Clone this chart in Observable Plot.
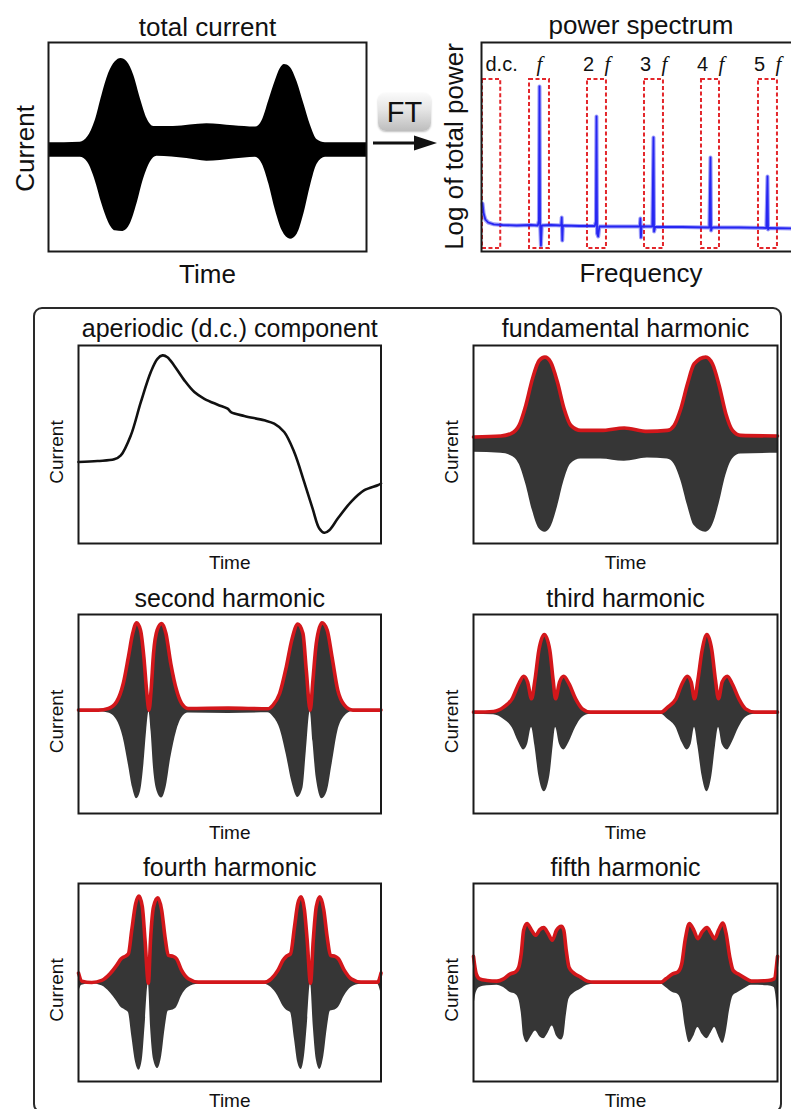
<!DOCTYPE html>
<html>
<head>
<meta charset="utf-8">
<script src="https://cdn.jsdelivr.net/npm/d3@7"></script>
<script src="https://cdn.jsdelivr.net/npm/@observablehq/plot@0.6"></script>
<style>
  html, body { margin: 0; padding: 0; background: #fff; }
  body { overflow: hidden; font-family: "Liberation Sans", Arial, Helvetica, sans-serif; }
  #root { position: relative; width: 791px; height: 1109px; overflow: hidden; background: #fff; }
  #bigbox { position: absolute; left: 33px; top: 307px; width: 749px; height: 806px; box-sizing: border-box;
            border: 2px solid #2a2a2a; border-radius: 9px; }
  #ft { position: absolute; left: 378px; top: 93px; width: 53px; height: 38px; box-sizing: border-box;
        border-radius: 8px; background: linear-gradient(#fafafa, #e4e4e4 45%, #bdbdbd);
        box-shadow: 0 1px 2px rgba(0,0,0,0.25);
        font-size: 29px; line-height: 38px; text-align: center; color: #111; }
  #arrow { position: absolute; left: 0; top: 0; }
</style>
</head>
<body>
<div id="root">
  <div id="bigbox"></div>
  <div id="ft">FT</div>
  <svg id="arrow" width="791" height="300">
    <line x1="373" y1="143" x2="418" y2="143" stroke="#111" stroke-width="3"></line>
    <polygon points="414,135.5 437,143 414,150.5" fill="#111"></polygon>
  </svg>
</div>
<script>
// ---------------- DATA ----------------
// total current (time in % of experiment, current in arbitrary units; upper and lower envelope)
const totalUpperTime = [0, 10.0, 12.3, 14.7, 16.8, 18.9, 21.0, 22.8, 24.7, 26.8, 28.9, 31.0, 33.1, 39.3, 49.8, 58.2, 65.1, 67.2, 69.3, 71.4, 72.9, 74.2, 75.9, 78.2, 80.3, 82.4, 84.5, 87.1, 100];
const totalUpper = [7, 7.7, 12.7, 29.3, 54.3, 76, 87.7, 91, 87.7, 74.3, 51, 31, 23.3, 23.3, 26, 24, 22.7, 29.3, 49.3, 69.3, 81, 85, 82.7, 67.7, 46, 24.3, 10, 7, 7];
const totalLowerTime = [0, 10.0, 12.3, 14.7, 16.8, 18.9, 21.0, 23.4, 25.7, 27.8, 29.9, 32.0, 34.1, 43.5, 49.8, 58.2, 65.1, 67.2, 69.3, 71.4, 73.5, 76.1, 78.2, 80.3, 82.4, 84.5, 87.1, 100];
const totalLower = [-7.3, -7.3, -12.3, -30.7, -54, -72.3, -80.7, -81.3, -74, -54, -29, -12.3, -6.3, -8.7, -11.3, -9, -7.3, -14, -34, -60.7, -80.7, -89, -84, -64, -35.7, -14, -7.3, -7.3];

// power spectrum (frequency in multiples of f, log power in arbitrary units)
const specFreq = [0, 0.02, 0.05, 0.1, 0.2, 0.35, 0.6, 0.85, 0.97, 0.99, 1.0, 1.01, 1.025, 1.04, 1.2, 1.38, 1.39, 1.40, 1.41, 1.7, 1.97, 1.99, 2.0, 2.01, 2.03, 2.05, 2.4, 2.76, 2.77, 2.78, 2.79, 2.98, 3.0, 3.01, 3.03, 3.5, 3.98, 4.0, 4.01, 4.03, 4.5, 4.98, 5.0, 5.01, 5.03, 5.51];
const specPower = [2.2, 1.2, 0.6, 0.3, 0.12, 0.05, 0.0, 0.05, 0.0, 0.5, 13.9, 0.3, -2.0, 0.0, 0.05, 0.0, 0.8, -1.5, 0.0, -0.05, -0.05, 0.4, 10.9, -0.8, -1.1, -0.1, -0.1, -0.1, 0.7, -1.2, -0.1, -0.1, 8.8, -0.6, -0.15, -0.15, -0.2, 6.8, -0.5, -0.2, -0.2, -0.25, 4.9, -0.4, -0.25, -0.3];
const boxLabels = ["d.c.", "f", "2f", "3f", "4f", "5f"];
const boxLo = [0, 0.825, 1.842, 2.842, 3.842, 4.842];
const boxHi = [0.32, 1.175, 2.175, 3.175, 4.158, 5.175];
const boxPowerRange = [-2.3, 14.6];
const harmonicNumbers = [2, 3, 4, 5];

// aperiodic (d.c.) component
const dcTime = [0, 6.3, 11.8, 14.0, 17.3, 20.6, 23.9, 26.1, 27.8, 29.4, 31.6, 35.0, 38.3, 41.6, 46.0, 49.3, 50.4, 54.8, 61.4, 64.7, 68.0, 71.3, 74.6, 77.4, 79.6, 81.3, 82.9, 85.7, 90.1, 94.5, 98.9, 100];
const dcCurrent = [0.412, 0.417, 0.425, 0.445, 0.546, 0.714, 0.866, 0.933, 0.950, 0.941, 0.899, 0.824, 0.765, 0.731, 0.701, 0.681, 0.664, 0.644, 0.622, 0.605, 0.563, 0.462, 0.311, 0.176, 0.076, 0.054, 0.067, 0.126, 0.210, 0.269, 0.294, 0.303];

// harmonic envelopes (amplitude, symmetric about zero)
const fundTime = [0, 9.0, 12.3, 15.0, 17.2, 19.4, 21.6, 23.5, 25.4, 27.6, 29.8, 32.0, 35.3, 41.9, 49.6, 57.2, 63.8, 66.0, 68.2, 70.4, 72.6, 76.4, 78.6, 80.8, 83.0, 85.2, 87.9, 100];
const fundEnv = [7.7, 8.7, 11, 19.3, 39.3, 66, 84.3, 87.7, 82.7, 62.7, 36, 19.3, 14.3, 14.3, 16.7, 13.3, 14.3, 19.3, 36, 61, 81, 87.7, 81, 59.3, 31, 14.3, 9.3, 8.7];

const secondTime = [0, 6.6, 9.9, 12.6, 14.8, 16.5, 17.9, 19.2, 20.5, 21.6, 22.5, 23.3, 24.0, 24.8, 26.0, 27.5, 28.9, 30.5, 32.4, 34.1, 36.3, 49.5, 62.6, 64.3, 66.5, 68.7, 70.5, 72.5, 74.2, 75.3, 76.6, 77.5, 78.6, 80.5, 82.2, 83.8, 85.7, 87.9, 90.7, 100];
const secondEnv = [0.7, 0.7, 2.3, 9, 27.3, 54, 77.3, 88, 80.7, 54, 20.7, 0.7, 20.7, 57.3, 80.7, 87.3, 77.3, 47.3, 20.7, 7.3, 2.3, 2.7, 2, 5.7, 17.3, 44, 70.7, 86.7, 77.3, 40.7, 0.7, 30.7, 67.3, 88, 80.7, 54, 20.7, 5.7, 0.7, 0.7];

const thirdTime = [0, 6.6, 9.9, 12.7, 14.9, 16.5, 17.8, 19.1, 20.2, 21.5, 23.3, 25.1, 26.2, 27.0, 28.3, 29.7, 31.4, 33.6, 35.8, 38.5, 52.9, 61.7, 63.9, 66.6, 68.6, 70.3, 71.6, 72.7, 73.8, 75.2, 76.8, 78.4, 79.6, 80.6, 81.8, 83.5, 85.1, 87.3, 89.5, 92.5, 100];
const thirdEnv = [1, 1.7, 6, 14.3, 29.3, 36.7, 31, 14.3, 32.7, 62.7, 78.3, 62.7, 32.7, 14.3, 31, 36.7, 29.3, 14.3, 4.3, 1, 1, 1, 6, 14.3, 29.3, 36.7, 31, 14.3, 32.7, 62.7, 78.3, 62.7, 32.7, 14.3, 31, 36.7, 29.3, 14.3, 4.3, 1, 1];

const fourthTime = [0, 1.1, 4.4, 7.7, 10.4, 12.6, 14.1, 15.4, 16.5, 17.6, 18.9, 20.0, 21.1, 22.0, 23.1, 23.8, 24.8, 26.2, 27.5, 28.6, 29.7, 31.3, 32.4, 34.1, 36.3, 39.6, 61.5, 63.7, 65.9, 67.6, 68.7, 70.1, 71.4, 72.5, 73.6, 74.7, 75.6, 76.7, 77.6, 78.6, 79.8, 81.1, 82.2, 83.3, 84.8, 85.9, 87.9, 90.1, 93.4, 98.9, 100];
const fourthEnv = [10, 2, 0.7, 2.7, 9.3, 17.7, 24.3, 26.7, 29.3, 52.7, 79.3, 86.7, 76, 42.7, 0, 42.7, 76, 85, 72.7, 46, 27.7, 26.7, 24.3, 12.7, 4.3, 1, 1, 4.3, 12.7, 22.7, 26.7, 29.3, 56, 79.3, 86, 72.7, 42.7, 0, 42.7, 76, 86, 72.7, 46, 27.7, 26.7, 24.3, 12.7, 4.3, 1, 1, 10];

const fifthTime = [0, 0.9, 2.0, 4.4, 7.7, 9.9, 12.1, 13.8, 14.9, 15.7, 16.5, 17.6, 19.1, 20.4, 21.8, 23.1, 24.6, 25.9, 27.3, 28.9, 29.7, 30.5, 31.4, 33.0, 35.2, 37.4, 39.6, 61.7, 63.3, 65.5, 67.2, 68.5, 69.6, 71.0, 72.5, 73.8, 75.2, 76.8, 78.2, 79.3, 80.7, 82.0, 83.1, 84.3, 85.4, 87.0, 89.2, 91.4, 96.9, 98.9, 100];
const fifthEnv = [26.7, 9.3, 4.3, 2.7, 2, 4.3, 9.3, 11, 16, 29.3, 52.7, 59.3, 52.7, 47.7, 53.3, 55.3, 49.3, 42.7, 52.7, 56.7, 52.7, 32.7, 16, 10, 6, 2, 1, 1, 4.3, 9.3, 11, 19.3, 42.7, 59.3, 52.7, 44.3, 51, 55.3, 49.3, 44.3, 53.3, 60, 49.3, 26, 12.7, 9.3, 5.3, 2, 2.7, 4.3, 26.7];

// ---------------- HELPERS ----------------
const FONT = '"Liberation Sans", Arial, Helvetica, sans-serif';
const SERIF = '"Liberation Serif", "Times New Roman", serif';
const RED = "#d3171b";
const FILL = "#363636";
const BLUE = "#2626f2";
const root = document.getElementById("root");

function zip2(xs, ys, kx, ky) { return xs.map((v, i) => ({[kx]: v, [ky]: ys[i]})); }

function panel({fx0, fx1, fy0, fy1, xDomain, yDomain, marks, m}) {
  const width = (fx1 - fx0) + m.l + m.r;
  const height = (fy1 - fy0) + m.t + m.b;
  const svg = Plot.plot({
    width, height,
    marginTop: m.t, marginRight: m.r, marginBottom: m.b, marginLeft: m.l,
    x: {domain: xDomain, axis: null},
    y: {domain: yDomain, axis: null},
    style: {fontFamily: FONT, background: "transparent", overflow: "visible", maxWidth: "none", color: "#111"},
    marks
  });
  svg.style.position = "absolute";
  svg.style.left = (fx0 - m.l) + "px";
  svg.style.top = (fy0 - m.t) + "px";
  root.appendChild(svg);
}

function textMarks({title, titleDy, titleSize, ylab, ylabDx, ylabDy, xlab, xlabDy, labSize, titleDx = 0, xlabDx = 0}) {
  return [
    Plot.text([title], {text: d => d, frameAnchor: "top", lineAnchor: "bottom", textAnchor: "middle", dy: titleDy, dx: titleDx, fontSize: titleSize, fill: "#111"}),
    Plot.text([ylab], {text: d => d, frameAnchor: "left", lineAnchor: "bottom", textAnchor: "middle", rotate: -90, dx: ylabDx, dy: ylabDy, fontSize: labSize, fill: "#111"}),
    Plot.text([xlab], {text: d => d, frameAnchor: "bottom", lineAnchor: "bottom", textAnchor: "middle", dy: xlabDy, dx: xlabDx, fontSize: labSize, fill: "#111"})
  ];
}

// ---------------- TOP LEFT: total current ----------------
const upperData = zip2(totalUpperTime, totalUpper, "t", "i");
const lowerData = zip2(totalLowerTime, totalLower, "t", "i");
panel({
  fx0: 48, fx1: 366, fy0: 42, fy1: 251,
  xDomain: [0, 100], yDomain: [-101.3, 107],
  m: {t: 42, r: 10, b: 40, l: 48},
  marks: [
    Plot.areaY(upperData, {x: "t", y1: -3, y2: "i", curve: "monotone-x", fill: "#000"}),
    Plot.areaY(lowerData, {x: "t", y1: "i", y2: 0, curve: "monotone-x", fill: "#000"}),
    Plot.frame({stroke: "#1a1a1a", strokeWidth: 2}),
    ...textMarks({title: "total current", titleDy: -7, titleSize: 26, ylab: "Current", ylabDx: -15, ylabDy: 1.5,
                  xlab: "Time", xlabDy: 31, labSize: 26})
  ]
});

// ---------------- TOP RIGHT: power spectrum ----------------
const specData = zip2(specFreq, specPower, "f", "p");
const boxes = boxLabels.map((l, i) => ({label: l, lo: boxLo[i], hi: boxHi[i]}));
panel({
  fx0: 481, fx1: 796, fy0: 42, fy1: 251,
  xDomain: [-0.0175, 5.509], yDomain: [-2.6, 18.3],
  m: {t: 42, r: 0, b: 40, l: 40},
  marks: [
    Plot.rect(boxes, {x1: "lo", x2: "hi", y1: boxPowerRange[0], y2: boxPowerRange[1], fill: "none",
                      stroke: "#e3262b", strokeWidth: 2, strokeDasharray: "4 2.5"}),
    Plot.line(specData, {x: "f", y: "p", stroke: BLUE, strokeWidth: 4, strokeOpacity: 0.45}),
    Plot.line(specData, {x: "f", y: "p", stroke: BLUE, strokeWidth: 1.8}),
    Plot.frame({stroke: "#1a1a1a", strokeWidth: 2}),
    Plot.text(["d.c."], {text: d => d, x: [0], frameAnchor: "top", lineAnchor: "bottom", textAnchor: "start", dx: 3, dy: 28.5, fontSize: 20, fill: "#111"}),
    Plot.text(harmonicNumbers, {x: d => d, text: d => String(d), frameAnchor: "top", lineAnchor: "bottom", textAnchor: "middle", dx: -8, dy: 28.5, fontSize: 20, fill: "#111"}),
    Plot.text([1], {x: d => d, text: () => "f", frameAnchor: "top", lineAnchor: "bottom", textAnchor: "middle", dx: 0, dy: 28.5, fontSize: 21, fontStyle: "italic", fontFamily: SERIF, fill: "#111"}),
    Plot.text(harmonicNumbers, {x: d => d, text: () => "f", frameAnchor: "top", lineAnchor: "bottom", textAnchor: "middle", dx: 11, dy: 28.5, fontSize: 21, fontStyle: "italic", fontFamily: SERIF, fill: "#111"}),
    ...textMarks({title: "power spectrum", titleDy: -8.5, titleDx: 2, titleSize: 26, ylab: "Log of total power", ylabDx: -19, ylabDy: -0.5,
                  xlab: "Frequency", xlabDy: 30.5, xlabDx: 2, labSize: 26})
  ]
});

// ---------------- BOTTOM SUBPLOTS ----------------
const colX = [[77.5, 380], [473, 777]];
const rowY = [[345, 543], [614, 813], [883, 1081]];
const subplots = [
  {title: "aperiodic (d.c.) component", col: 0, row: 0, dc: true},
  {title: "fundamental harmonic", col: 1, row: 0, time: fundTime, env: fundEnv, yDomain: [-99, 99.3]},
  {title: "second harmonic", col: 0, row: 1, time: secondTime, env: secondEnv, yDomain: [-102.7, 96.3]},
  {title: "third harmonic", col: 1, row: 1, time: thirdTime, env: thirdEnv, yDomain: [-100, 98.3]},
  {title: "fourth harmonic", col: 0, row: 2, time: fourthTime, env: fourthEnv, yDomain: [-98, 99.3]},
  {title: "fifth harmonic", col: 1, row: 2, time: fifthTime, env: fifthEnv, yDomain: [-98, 99.3]}
];
const titleDys = [-9, -8, -8];

for (const s of subplots) {
  const [fx0, fx1] = colX[s.col];
  const [fy0, fy1] = rowY[s.row];
  let dataMarks;
  let yDomain;
  if (s.dc) {
    const dcData = zip2(dcTime, dcCurrent, "t", "i");
    yDomain = [0, 1];
    dataMarks = [Plot.line(dcData, {x: "t", y: "i", curve: "catmull-rom", stroke: "#111", strokeWidth: 2.6})];
  } else {
    const d = zip2(s.time, s.env, "t", "e");
    yDomain = s.yDomain;
    dataMarks = [
      Plot.areaY(d, {x: "t", y1: r => -r.e, y2: "e", curve: "monotone-x", fill: FILL}),
      Plot.line(d, {x: "t", y: "e", curve: "monotone-x", stroke: RED, strokeWidth: 3.6, strokeLinejoin: "round"})
    ];
  }
  panel({
    fx0, fx1, fy0, fy1,
    xDomain: [0, 100], yDomain,
    m: {t: 40, r: 6, b: 30, l: 36},
    marks: [
      ...dataMarks,
      Plot.frame({stroke: "#1a1a1a", strokeWidth: 2}),
      ...textMarks({title: s.title, titleDy: titleDys[s.row], titleSize: 25, ylab: "Current", ylabDx: -15.5, ylabDy: 7.5,
                    xlab: "Time", xlabDy: 25, labSize: 19})
    ]
  });
}
</script>
</body>
</html>
